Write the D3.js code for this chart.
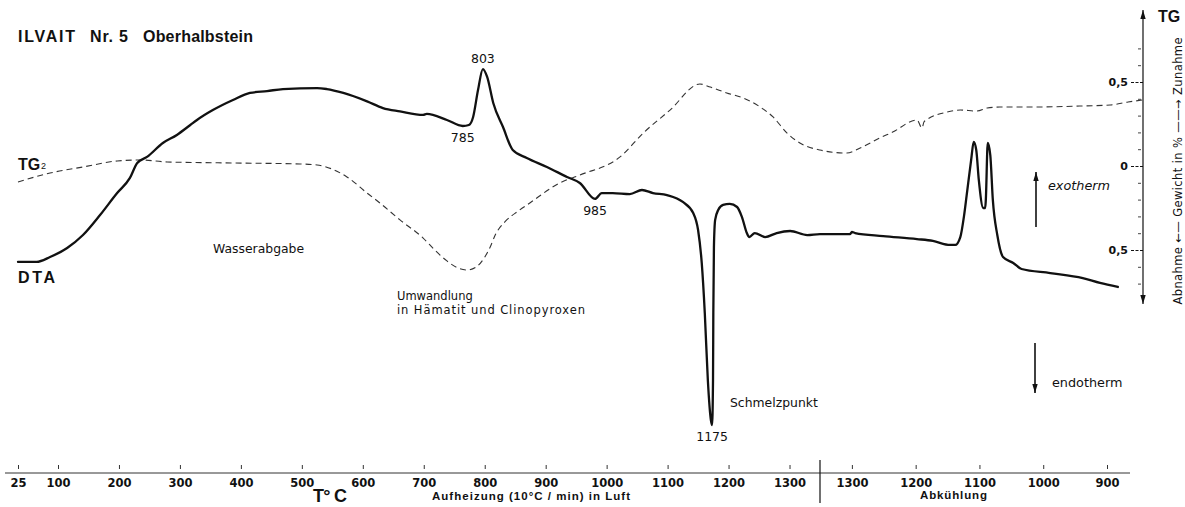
<!DOCTYPE html>
<html><head><meta charset="utf-8">
<script src="https://cdn.jsdelivr.net/npm/d3@7"></script>
<style>
html,body{margin:0;padding:0;background:#fff;}
svg{display:block;}
</style></head><body>
<svg id="chart" width="1185" height="507"></svg>
<script>
// ---------- data ----------
const heatTicks = [25,100,200,300,400,500,600,700,800,900,1000,1100,1200,1300];
const coolTicks = [1300,1200,1100,1000,900];
const tgTicks = [-0.5,0,0.5];
const tgMinorTicks = [-0.7,-0.6,-0.4,-0.3,-0.2,-0.1,0.1,0.2,0.3,0.4,0.6,0.7];

// DTA signal (relative units) vs temperature, heating branch [T °C, value]
const dtaHeating = [
 [25,-0.571],[60,-0.571],[85,-0.542],[115,-0.488],[141,-0.411],[169,-0.292],[197,-0.161],
 [218,-0.071],[230,0.018],[246,0.054],[272,0.137],[295,0.185],[317,0.244],[328,0.274],
 [354,0.333],[387,0.393],[415,0.435],[443,0.446],[469,0.458],[525,0.464],[541,0.458],
 [568,0.435],[607,0.385],[633,0.345],[661,0.325],[699,0.304],[705,0.310],[738,0.274],
 [764,0.238],[774,0.244],[781,0.292],[789,0.452],[797,0.577],[804,0.530],[814,0.375],
 [830,0.232],[846,0.095],[869,0.048],[902,-0.006],[935,-0.065],[956,-0.101],[981,-0.196],
 [992,-0.161],[1010,-0.161],[1038,-0.167],[1058,-0.143],[1076,-0.161],[1099,-0.173],
 [1125,-0.214],[1142,-0.280],[1150,-0.381],[1156,-0.577],[1161,-0.875],[1166,-1.274],
 [1171,-1.512],[1173,-1.542],[1174.5,-1.274],[1175,-0.875],[1176,-0.482],[1178,-0.321],
 [1183,-0.262],[1191,-0.232],[1202,-0.226],[1214,-0.244],[1222,-0.304],[1230,-0.399],
 [1234,-0.423],[1243,-0.399],[1260,-0.423],[1279,-0.399],[1301,-0.387],[1329,-0.411],
 [1350,-0.405]
];
// DTA cooling branch [T °C, value]
const dtaCooling = [
 [1350,-0.405],[1303,-0.405],[1300,-0.393],[1295,-0.399],[1251,-0.417],[1198,-0.435],
 [1173,-0.446],[1146,-0.470],[1138,-0.470],[1130,-0.423],[1124,-0.292],[1120,-0.173],
 [1113,0.036],[1109,0.143],[1105,0.095],[1101,-0.083],[1094,-0.250],[1091,-0.250],
 [1090,-0.202],[1087,0.137],[1083,0.065],[1079,-0.202],[1072,-0.411],[1063,-0.542],
 [1047,-0.577],[1034,-0.613],[989,-0.637],[938,-0.667],[911,-0.696],[883,-0.720]
];
// TG (weight change, %) heating branch
const tgHeating = [
 [25,-0.095],[85,-0.042],[141,-0.006],[197,0.030],[235,0.036],[279,0.024],[387,0.018],
 [497,0.012],[525,0.006],[574,-0.065],[607,-0.161],[628,-0.220],[661,-0.321],[699,-0.429],
 [718,-0.500],[738,-0.565],[756,-0.607],[771,-0.619],[786,-0.601],[799,-0.548],[809,-0.482],
 [818,-0.405],[833,-0.333],[855,-0.268],[874,-0.220],[923,-0.101],[956,-0.054],[1022,0.054],
 [1060,0.196],[1104,0.333],[1153,0.488],[1170,0.470],[1197,0.435],[1224,0.405],[1252,0.351],
 [1273,0.292],[1296,0.196],[1317,0.137],[1350,0.095]
];
// TG cooling branch
const tgCooling = [
 [1350,0.095],[1308,0.077],[1287,0.107],[1256,0.167],[1236,0.202],[1198,0.274],[1190,0.226],
 [1187,0.262],[1183,0.274],[1151,0.321],[1130,0.333],[1104,0.327],[1088,0.345],[1068,0.351],
 [1016,0.351],[942,0.357],[895,0.363],[867,0.381],[844,0.393]
];
const peakNotes = [
 {label:"803", T:797, kind:"max"},
 {label:"785", T:764, kind:"min"},
 {label:"985", T:981, kind:"min"},
 {label:"1175", T:1173, kind:"min"}
];

// ---------- drawing ----------
const W = 1185, H = 507;
const INK = "#111";
const svg = d3.select("#chart");
svg.append("rect").attr("width", W).attr("height", H).attr("fill", "#fff");

const xHeat = d3.scaleLinear().domain([25,100,1350]).range([18,58,820]);
const xCool = d3.scaleLinear().domain([1350,900]).range([820,1107]);
const y = d3.scaleLinear().domain([-0.5,0.5]).range([250,82]);

const defs = svg.append("defs");
defs.append("marker").attr("id","arr").attr("viewBox","0 0 10 10")
  .attr("refX",10).attr("refY",5).attr("markerWidth",9).attr("markerHeight",9)
  .attr("markerUnits","userSpaceOnUse").attr("orient","auto-start-reverse")
  .append("path").attr("d","M0,2 L10,5 L0,8 Z").attr("fill",INK);

function toPts(heat, cool){
  return heat.map(d => [xHeat(d[0]), y(d[1])])
    .concat(cool.slice(1).map(d => [xCool(d[0]), y(d[1])]));
}
const line = d3.line().curve(d3.curveMonotoneX);

// TG dashed
svg.append("path").attr("d", line(toPts(tgHeating, tgCooling)))
  .attr("fill","none").attr("stroke","#333").attr("stroke-width",1.1)
  .attr("stroke-dasharray","6,4");
// DTA solid
svg.append("path").attr("d", line(toPts(dtaHeating, dtaCooling)))
  .attr("fill","none").attr("stroke",INK).attr("stroke-width",2.3)
  .attr("stroke-linejoin","round").attr("stroke-linecap","round");

// ---------- x axis ----------
const axisY = 473;
svg.append("line").attr("x1",5).attr("x2",1130).attr("y1",axisY).attr("y2",axisY)
  .attr("stroke","#333").attr("stroke-width",1);
function styleX(g){
  g.select(".domain").remove();
  g.selectAll(".tick line").attr("y1",-4).attr("y2",-8).attr("stroke","#333");
  g.selectAll(".tick text").attr("font-family","DejaVu Sans").attr("font-weight","bold")
    .attr("font-size",11.5).attr("fill",INK);
}
const fmt = d3.format("d");
svg.append("g").attr("transform",`translate(0,${axisY})`)
  .call(d3.axisBottom(xHeat).tickValues(heatTicks).tickFormat(fmt)
    .tickSizeInner(-5).tickSizeOuter(0).tickPadding(6))
  .call(styleX);
svg.append("g").attr("transform",`translate(0,${axisY})`)
  .call(d3.axisBottom(xCool).tickValues(coolTicks).tickFormat(fmt)
    .tickSizeInner(-5).tickSizeOuter(0).tickPadding(6))
  .call(styleX);
svg.append("line").attr("x1",xHeat(1350)).attr("x2",xHeat(1350)).attr("y1",460).attr("y2",503)
  .attr("stroke",INK).attr("stroke-width",1.2);

// ---------- right TG axis ----------
const axX = 1143;
svg.append("line").attr("x1",axX).attr("x2",axX).attr("y1",304).attr("y2",10)
  .attr("stroke",INK).attr("stroke-width",1.2)
  .attr("marker-start","url(#arr)").attr("marker-end","url(#arr)");
const gyMinor = svg.append("g").attr("transform",`translate(${axX},0)`)
  .call(d3.axisLeft(y).tickValues(tgMinorTicks).tickSize(4).tickFormat(""));
gyMinor.select(".domain").remove();
gyMinor.selectAll(".tick line").attr("x1",-2).attr("x2",-5).attr("stroke","#444");
const gy = svg.append("g").attr("transform",`translate(${axX},0)`)
  .call(d3.axisLeft(y).tickValues(tgTicks).tickSize(12).tickPadding(3)
    .tickFormat(d => d === 0 ? "0" : "0,5"));
gy.select(".domain").remove();
gy.selectAll(".tick line").attr("stroke",INK).attr("stroke-dasharray","3,1.5");
gy.selectAll(".tick text").attr("font-family","DejaVu Sans").attr("font-weight","bold")
  .attr("font-size",11).attr("fill",INK);

// ---------- texts ----------
function txt(x, yy, s, o){
  o = o || {};
  const t = svg.append("text").attr("x",x).attr("y",yy).text(s)
    .attr("font-family", o.family || "DejaVu Sans")
    .attr("font-size", o.size || 12)
    .attr("font-weight", o.weight || "normal")
    .attr("font-style", o.style || "normal")
    .attr("fill", INK)
    .attr("text-anchor", o.anchor || "start");
  if (o.ls) t.attr("letter-spacing", o.ls);
  if (o.len) t.attr("textLength", o.len).attr("lengthAdjust","spacing");
  return t;
}
const B = {family:"Liberation Sans", weight:"bold"};
txt(18,42,"ILVAIT",{...B,size:16,len:57});
txt(90,42,"Nr. 5",{...B,size:16,len:38});
txt(143,42,"Oberhalbstein",{...B,size:16,len:110});

txt(18,170,"TG",{...B,size:16});
txt(41,169,"2",{family:"Liberation Sans",size:9});
txt(18,283,"DTA",{...B,size:16,len:37});

txt(213,253,"Wasserabgabe",{size:12.4});
txt(397,300,"Umwandlung",{size:11.5});
txt(397,314,"in Hämatit  und Clinopyroxen",{size:11.5,len:188});
txt(730,407,"Schmelzpunkt",{size:12.4});

peakNotes.forEach(n => {
  const p = dtaHeating.find(d => d[0] === n.T);
  const px = xHeat(n.T), py = y(p[1]);
  txt(px, n.kind === "max" ? py - 6 : py + 16, n.label, {size:12.5, anchor:"middle"});
});

txt(313,502,"T° C",{...B,size:18,len:34});
txt(432,500,"Aufheizung  (10°C / min)  in Luft",{...B,size:11.5,len:198});
txt(920,499,"Abkühlung",{...B,size:11.5,len:67});

txt(1158,22,"TG",{...B,size:16});

// exotherm / endotherm arrows
svg.append("line").attr("x1",1036).attr("x2",1036).attr("y1",227).attr("y2",172)
  .attr("stroke",INK).attr("stroke-width",1.6).attr("marker-end","url(#arr)");
txt(1048,190,"exotherm",{size:12.8,style:"italic"});
svg.append("line").attr("x1",1035).attr("x2",1035).attr("y1",343).attr("y2",393)
  .attr("stroke",INK).attr("stroke-width",1.6).attr("marker-end","url(#arr)");
txt(1052,387,"endotherm",{size:12.8});

// rotated right label
svg.append("text").attr("transform","translate(1182,171) rotate(-90)")
  .attr("text-anchor","middle").attr("font-family","DejaVu Sans").attr("font-size",11.5)
  .attr("fill",INK).attr("textLength",267).attr("lengthAdjust","spacing")
  .text("Abnahme ←— Gewicht in % ——→ Zunahme");
</script>
</body></html>
